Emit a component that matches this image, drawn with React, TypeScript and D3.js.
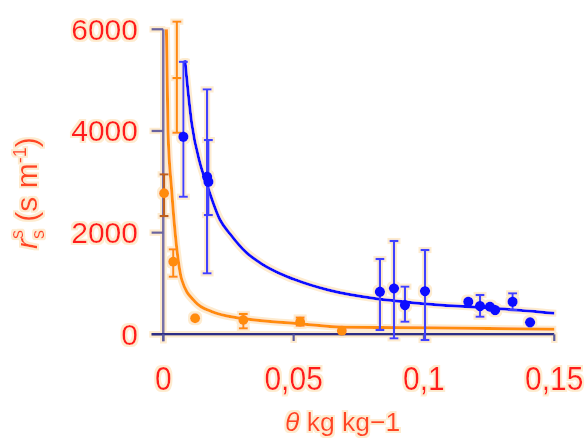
import React from "react";
import * as d3 from "d3";

// ---- data ----
// orange series (lower): soil moisture θ (kg/kg) vs r_s^s (s/m)
const orangeTheta = [0.0003, 0.0038, 0.0122, 0.0307, 0.0525, 0.0685];
const orangeRs = [2773, 1428, 315, 281, 248, 71];
const orangeLo = [2326, 1133, null, 118, 170, null];
const orangeHi = [3146, 1671, null, 400, 330, null];
// an orange error bar whose marker is hidden under the curve
const orangeExtraTheta = [0.0052];
const orangeExtraMid = [5040];
const orangeExtraLo = [3965];
const orangeExtraHi = [6150];

// blue series (upper)
const blueTheta = [0.0077, 0.0168, 0.0173, 0.0831, 0.0885, 0.0927, 0.1004, 0.117, 0.1215, 0.1253, 0.1273, 0.134, 0.1407];
const blueRs = [3886, 3100, 3000, 838, 904, 576, 850, 641, 557, 543, 478, 641, 236];
const blueLo = [2706, 1200, 2346, 85, -79, 248, -112, null, 346, null, null, 478, null];
const blueHi = [5360, 4818, 3821, 1481, 1835, 937, 1658, null, 773, null, null, 806, null];

// fitted curves
const orangeCurveTheta = [0.0012, 0.0018, 0.0032, 0.0051, 0.0071, 0.0122, 0.0186, 0.03, 0.05, 0.07, 0.1, 0.15];
const orangeCurveRs = [6000, 4000, 2840, 1720, 1070, 640, 445, 315, 216, 140, 130, 98];
const blueCurveTheta = [0.0083, 0.0109, 0.0141, 0.0167, 0.0218, 0.0256, 0.032, 0.0378, 0.0448, 0.0505, 0.0633, 0.0812, 0.0883, 0.1061, 0.1266, 0.15];
const blueCurveRs = [5395, 4150, 3363, 2950, 2248, 1975, 1600, 1385, 1195, 1075, 871, 705, 661, 576, 511, 413];

const xTicks = [0, 0.05, 0.1, 0.15];
const xTickLabels = ["0", "0,05", "0,1", "0,15"];
const yTicks = [0, 2000, 4000, 6000];
const yTickLabels = ["0", "2000", "4000", "6000"];

const W = 586;
const H = 441;
const BLUE = "#1010ff";
const BLUE_BAR = "#4040ff";
const ORANGE = "#ff8c10";
const RED = "#ff1c1c";
const TITLE = "#ff4422";
const HALO = "#fdebcf";

export default function App() {
  const x = d3.scaleLinear().domain([0, 0.15]).range([163.3, 554.3]);
  const y = d3.scaleLinear().domain([0, 6000]).range([334.3, 29.3]);

  const line = d3
    .line<[number, number]>()
    .x((d) => x(d[0]))
    .y((d) => y(d[1]))
    .curve(d3.curveMonotoneX);

  const orangeCurve = line(orangeCurveTheta.map((t, i) => [t, orangeCurveRs[i]] as [number, number])) || "";
  const blueCurve = line(blueCurveTheta.map((t, i) => [t, blueCurveRs[i]] as [number, number])) || "";

  const cap = 4.5;

  const errBar = (t: number, lo: number | null, hi: number | null, color: string, key: string) => {
    if (lo == null || hi == null) return null;
    const cx = x(t);
    return (
      <g key={key} stroke={color} strokeWidth={2.2} fill="none">
        <line x1={cx} x2={cx} y1={y(lo)} y2={y(hi)} />
        <line x1={cx - cap} x2={cx + cap} y1={y(lo)} y2={y(lo)} />
        <line x1={cx - cap} x2={cx + cap} y1={y(hi)} y2={y(hi)} />
      </g>
    );
  };

  return (
    <svg
      width={W}
      height={H}
      viewBox={`0 0 ${W} ${H}`}
      style={{ position: "absolute", left: 0, top: 0, background: "#fff" }}
      fontFamily="'Liberation Sans', Arial, sans-serif"
    >
      <defs>
        <filter id="halo" x="-5%" y="-5%" width="110%" height="110%">
          <feMorphology in="SourceAlpha" operator="dilate" radius="2" result="d" />
          <feFlood floodColor={HALO} result="f" />
          <feComposite in="f" in2="d" operator="in" result="h" />
          <feMerge>
            <feMergeNode in="h" />
            <feMergeNode in="SourceGraphic" />
          </feMerge>
        </filter>
      </defs>
      <g filter="url(#halo)">
        {/* axes */}
        <line x1={x(0)} x2={x(0)} y1={y(6000)} y2={341.5} stroke="#7a72a8" strokeWidth={2.6} />
        {yTicks.map((v) => (
          <line key={"yt" + v} x1={151.5} x2={x(0)} y1={y(v)} y2={y(v)} stroke="#6a64a0" strokeWidth={2.4} />
        ))}
        <line x1={151.5} x2={x(0.15)} y1={y(0)} y2={y(0)} stroke="#2e2e86" strokeWidth={2.4} />
        {xTicks.map((v) => (
          <line key={"xt" + v} x1={x(v)} x2={x(v)} y1={y(0)} y2={341} stroke="#5a5aa0" strokeWidth={2.4} />
        ))}

        {/* tick labels */}
        {yTicks.map((v, i) => (
          <text key={"yl" + v} x={138} y={y(v) + 10.5} textAnchor="end" fontSize={30} fill={RED}>
            {yTickLabels[i]}
          </text>
        ))}
        {xTicks.map((v, i) => (
          <text
            key={"xl" + v}
            x={x(v)}
            y={390}
            textAnchor="middle"
            fontSize={30}
            fill={RED}
            transform={`translate(0 ${390 * -0.12}) scale(1 1.12)`}
          >
            {xTickLabels[i]}
          </text>
        ))}

        {/* axis titles */}
        <text x={285} y={431} fontSize={26.5} fill={TITLE}>
          <tspan fontStyle="italic">θ</tspan>
          <tspan> kg kg−1</tspan>
        </text>
        <text transform="translate(37 249) rotate(-90)" fontSize={30} fill={TITLE}>
          <tspan fontStyle="italic">r</tspan>
          <tspan fontSize={18} dy={7}>s</tspan>
          <tspan fontSize={18} dx={-9} dy={-21}>s</tspan>
          <tspan dy={14}> (s m</tspan>
          <tspan fontSize={18} dy={-11}>-1</tspan>
          <tspan dy={11}>)</tspan>
        </text>

        {/* curves */}
        <path d={orangeCurve} fill="none" stroke={ORANGE} strokeWidth={3} />
        <path d={blueCurve} fill="none" stroke={BLUE} strokeWidth={3} />

        {/* orange error bars and points */}
        {orangeExtraTheta.map((t, i) => (
          <g key={"oe" + i}>
            {errBar(t, orangeExtraLo[i], orangeExtraHi[i], ORANGE, "oeb" + i)}
            <line x1={x(t) - cap} x2={x(t) + cap} y1={y(orangeExtraMid[i])} y2={y(orangeExtraMid[i])} stroke={ORANGE} strokeWidth={2.2} />
          </g>
        ))}
        {orangeTheta.map((t, i) => errBar(t, orangeLo[i], orangeHi[i], i === 0 ? "#c0601a" : ORANGE, "ob" + i))}
        {orangeTheta.map((t, i) => (
          <circle key={"op" + i} cx={x(t)} cy={y(orangeRs[i])} r={5} fill={ORANGE} />
        ))}

        {/* blue error bars and points */}
        {blueTheta.map((t, i) => errBar(t, blueLo[i], blueHi[i], BLUE_BAR, "bb" + i))}
        {blueTheta.map((t, i) => (
          <circle key={"bp" + i} cx={x(t)} cy={y(blueRs[i])} r={5.2} fill={BLUE} />
        ))}
      </g>
    </svg>
  );
}
